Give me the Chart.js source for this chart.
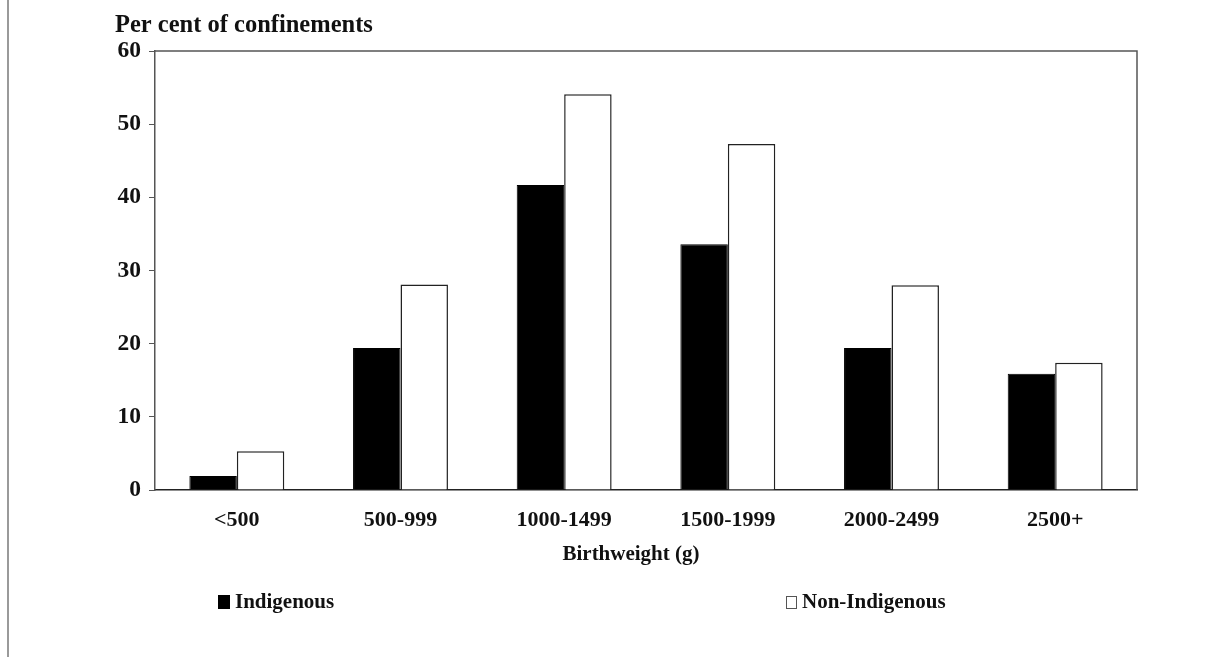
<!DOCTYPE html>
<html>
<head>
<meta charset="utf-8">
<script src="https://cdn.jsdelivr.net/npm/chart.js@4"></script>
<style>
  body { margin: 0; background: #fff; }
  #wrap { position: relative; width: 1229px; height: 657px; }
  #edge { position: absolute; left: 7px; top: 0; width: 0; height: 657px; border-left: 2px solid #9a9a9a; }
  .legend { position: absolute; top: 589px; font: bold 21px "Liberation Serif", "Times New Roman", serif; color: #111; white-space: nowrap; }
  .legend span.box { display: inline-block; vertical-align: -1px; margin-right: 5px; }
</style>
</head>
<body>
<div id="wrap">
  <canvas id="myBarChart" width="1229" height="657"></canvas>
  <div id="edge"></div>
  <div id="legendBox"></div>
</div>
<script>
// Data
const categories = ['<500', '500-999', '1000-1499', '1500-1999', '2000-2499', '2500+'];
const indigenous = [1.9, 19.4, 41.7, 33.6, 19.4, 15.9];
const nonIndigenous = [5.3, 28.1, 54.1, 47.3, 28.0, 17.4];
const yTicks = [0, 10, 20, 30, 40, 50, 60];
const yLabel = 'Per cent of confinements';
const xLabel = 'Birthweight (g)';

const serif = '"Liberation Serif", "Times New Roman", serif';

// Draws the box around the plot, the y label at top left and the x label
const framePlugin = {
  id: 'frame',
  afterDraw(chart) {
    const a = chart.chartArea;
    const ctx = chart.ctx;
    ctx.save();
    ctx.strokeStyle = '#555';
    ctx.lineWidth = 1.5;
    ctx.beginPath();
    ctx.moveTo(a.left, a.top);
    ctx.lineTo(a.right, a.top);
    ctx.lineTo(a.right, a.bottom);
    ctx.stroke();
    ctx.fillStyle = '#111';
    ctx.font = 'bold 24.5px ' + serif;
    ctx.textBaseline = 'alphabetic';
    ctx.fillText(yLabel, a.left - 40, 32);
    // x label sits a little left of the plot centre in the original
    ctx.font = 'bold 21px ' + serif;
    ctx.textAlign = 'center';
    ctx.textBaseline = 'middle';
    ctx.fillText(xLabel, (a.left + a.right) / 2 - 15, 555);
    ctx.restore();
  }
};

const ctx = document.getElementById('myBarChart').getContext('2d');
const myBarChart = new Chart(ctx, {
  type: 'bar',
  data: {
    labels: categories,
    datasets: [{
      label: 'Indigenous',
      data: indigenous,
      backgroundColor: '#000',
      borderColor: '#000',
      borderWidth: 1
    }, {
      label: 'Non-Indigenous',
      data: nonIndigenous,
      backgroundColor: '#fff',
      borderColor: '#222',
      borderWidth: 1.5
    }]
  },
  options: {
    responsive: false,
    animation: false,
    devicePixelRatio: 1,
    datasets: { bar: { barPercentage: 1, categoryPercentage: 0.58 } },
    layout: { padding: { left: 0, top: 51, right: 92, bottom: 72 } },
    plugins: {
      legend: { display: false },
      tooltip: { enabled: false }
    },
    scales: {
      x: {
        grid: { display: false, drawTicks: false },
        border: { display: true, color: '#222', width: 1.5 },
        ticks: { color: '#111', padding: 17, font: { family: serif, size: 22, weight: 'bold' } },
        afterFit(scale) { scale.height = 95; }
      },
      y: {
        min: 0,
        max: 60,
        afterBuildTicks(scale) { scale.ticks = yTicks.map(v => ({ value: v })); },
        grid: { drawOnChartArea: false, drawTicks: true, tickLength: 6, color: '#555' },
        border: { display: true, color: '#555', width: 1.5 },
        ticks: { color: '#111', padding: 8, font: { family: serif, size: 23.5, weight: 'bold' } },
        afterFit(scale) { scale.width = 155; }
      }
    }
  },
  plugins: [framePlugin]
});

// Legend built from the datasets, spread apart like the original
const legendBox = document.getElementById('legendBox');
const legendX = [218, 786];
myBarChart.data.datasets.forEach((ds, i) => {
  const item = document.createElement('div');
  item.className = 'legend';
  item.style.left = legendX[i] + 'px';
  const box = document.createElement('span');
  box.className = 'box';
  if (i === 0) {
    box.style.width = '12px';
    box.style.height = '14px';
    box.style.background = ds.backgroundColor;
  } else {
    box.style.width = '9px';
    box.style.height = '11px';
    box.style.border = '1px solid #555';
    box.style.background = '#fff';
  }
  item.appendChild(box);
  item.appendChild(document.createTextNode(ds.label));
  legendBox.appendChild(item);
});
</script>
</body>
</html>
